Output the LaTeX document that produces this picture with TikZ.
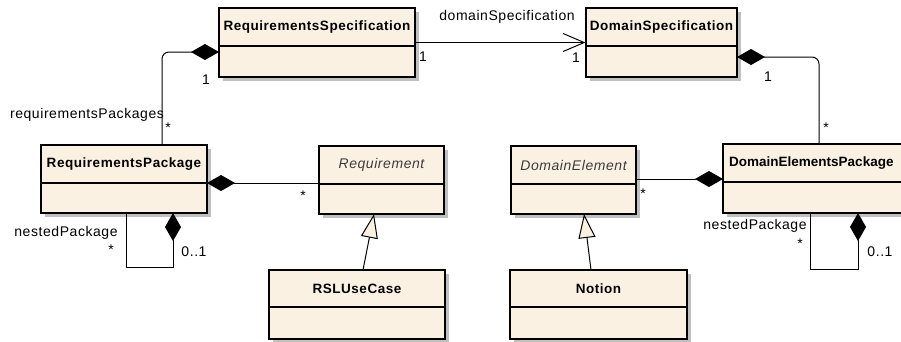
\documentclass[tikz,border=0pt]{standalone}
\usepackage{fontspec}
\setmainfont{Liberation Sans}[LetterSpace=4]
\newfontfamily\tightfont{Liberation Sans}
\usetikzlibrary{arrows.meta,shadows}
\definecolor{clsfill}{RGB}{251,241,227}
\definecolor{shgray}{RGB}{192,192,192}
\definecolor{absgray}{RGB}{60,60,60}
\newcommand\umlcls[8]{%
  \node[classbox, minimum width={(#4-#2)*1pt}, minimum height={(#5-#3)*1pt}] (#1) at ({(#2+#4)/2},{(#3+#5)/2}) {};
  \draw[classline] (#2,#6) -- (#4,#6);
  \node[#8] (#1-name) at ({(#2+#4)/2},{(#3+#6)/2}) {#7};
}
\begin{document}
\begin{tikzpicture}[x=1pt,y=-1pt,
  classbox/.style={draw=black, line width=1.2pt, fill=clsfill, inner sep=0pt,
    drop shadow={shadow xshift=3.5pt, shadow yshift=-3.5pt, fill=shgray, opacity=1}},
  classline/.style={draw=black, line width=1.2pt},
  clsname/.style={font=\fontsize{13.5}{16}\selectfont\bfseries, inner sep=0pt},
  absname/.style={font=\fontsize{14}{16}\selectfont\itshape, text=absgray, inner sep=0pt},
  lbl/.style={font=\fontsize{14}{16}\selectfont, inner sep=0pt},
  conn/.style={draw=black, line width=1pt},
  comp/.style={conn, {Diamond[length=28pt,width=16pt]}-},
  nav/.style={conn, -{Straight Barb[length=21pt,width=18pt,line width=1pt]}},
  gen/.style={conn, -{Triangle[length=24pt,width=17pt,fill=clsfill,line width=1pt]}}
]
\useasboundingbox (0,0) rectangle (901,341);
\fill[white] (0,0) rectangle (901,341);
\clip (0,0) rectangle (901,341);

% classes
\umlcls{rs}{219}{8}{415}{77}{46}{RequirementsSpecification}{clsname}
\umlcls{ds}{586}{8}{737}{77}{46}{DomainSpecification}{clsname}
\umlcls{rp}{41}{145}{207}{213}{183}{RequirementsPackage}{clsname}
\umlcls{req}{319}{146}{444}{214}{184}{Requirement}{absname}
\umlcls{rsl}{269}{270}{445}{339}{307}{RSLUseCase}{clsname}
\umlcls{de}{511}{146}{636}{214}{184}{DomainElement}{absname}
\umlcls{no}{510}{270}{687}{339}{307}{Notion}{clsname}
\node[classbox, minimum width=220pt, minimum height=69pt] (dep) at (833,178.5) {};
\draw[classline] (723,182) -- (943,182);
\node[font=\fontsize{13.5}{16}\selectfont\tightfont\bfseries, inner sep=0pt, anchor=west] (dep-name) at (729,163) {DomainElementsPackage};

% connector end points
\coordinate (rsL) at (219,52);
\coordinate (rpT) at (162,145);
\coordinate (dsR) at (737,57);
\coordinate (depT) at (819,144);
\coordinate (rpR) at (207,183);
\coordinate (reqL) at (319,183);
\coordinate (depL) at (723,179);
\coordinate (deR) at (636,179);
\coordinate (rpB1) at (173,213);
\coordinate (rpB2) at (126,213);
\coordinate (rpLoop) at (126,267);
\coordinate (depB1) at (858,213);
\coordinate (depB2) at (810,213);
\coordinate (depLoop) at (810,269);
\coordinate (rslT) at (363,270);
\coordinate (reqB) at (374,214);
\coordinate (noT) at (591,270);
\coordinate (deB) at (584,214);

% connectors
\draw[nav] (rs.east) -- (ds.west);
\draw[comp, rounded corners=7pt] (rsL) -| (rpT);
\draw[comp, rounded corners=7pt] (dsR) -| (depT);
\draw[comp] (rpR) -- (reqL);
\draw[comp] (depL) -- (deR);
\draw[comp] (rpB1) |- (rpLoop) -- (rpB2);
\draw[comp] (depB1) |- (depLoop) -- (depB2);
\draw[gen] (rslT) -- (reqB);
\draw[gen] (noT) -- (deB);

% labels
\node[lbl] (l1) at (507,17) {domainSpecification};
\node[lbl] (l2) at (423,57) {1};
\node[lbl] (l3) at (576,58) {1};
\node[lbl] (l4) at (206,80) {1};
\node[lbl] (l5) at (87,115) {requirementsPackages};
\node[lbl] (l6) at (168,128) {*};
\node[lbl] (l7) at (768,77) {1};
\node[lbl] (l8) at (826,128) {*};
\node[lbl] (l9) at (303,196) {*};
\node[lbl] (l10) at (643,194) {*};
\node[lbl] (l11) at (66,233) {nestedPackage};
\node[lbl] (l12) at (111,250) {*};
\node[lbl] (l13) at (194,252) {0..1};
\node[lbl] (l14) at (755,226) {nestedPackage};
\node[lbl] (l15) at (800,244) {*};
\node[lbl] (l16) at (880,252) {0..1};
\end{tikzpicture}
\end{document}
